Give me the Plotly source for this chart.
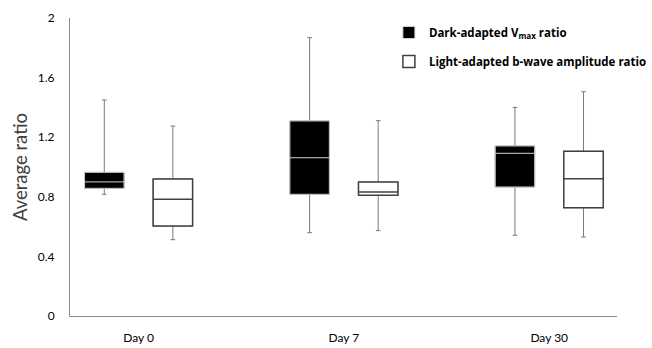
import plotly.graph_objects as go

days = ["Day 0", "Day 7", "Day 30"]

dark_low = [0.817, 0.559, 0.542]
dark_q1 = [0.857, 0.817, 0.866]
dark_med = [0.900, 1.062, 1.092]
dark_q3 = [0.964, 1.309, 1.141]
dark_high = [1.450, 1.868, 1.400]

light_low = [0.512, 0.573, 0.530]
light_q1 = [0.604, 0.810, 0.727]
light_med = [0.783, 0.832, 0.921]
light_q3 = [0.920, 0.899, 1.105]
light_high = [1.275, 1.311, 1.505]

yticks = [0, 0.4, 0.8, 1.2, 1.6, 2]

fig = go.Figure()

def add_series(name, low, q1, med, q3, high, fill, box_line, whisk_line, group, lw):
    # whiskers layer
    fig.add_trace(go.Box(
        x=days, q1=q1, median=med, q3=q3, lowerfence=low, upperfence=high,
        name=name, offsetgroup=group, legendgroup=group, showlegend=False,
        fillcolor=fill, line=dict(color=whisk_line, width=1), whiskerwidth=0.12,
        hoverinfo="skip", boxpoints=False,
    ))
    # box layer
    fig.add_trace(go.Box(
        x=days, q1=q1, median=med, q3=q3, lowerfence=q1, upperfence=q3,
        name=name, offsetgroup=group, legendgroup=group, showlegend=True,
        fillcolor=fill, line=dict(color=box_line, width=lw), whiskerwidth=0,
        boxpoints=False,
    ))

add_series("Dark-adapted V<sub>max</sub> ratio", dark_low, dark_q1, dark_med, dark_q3, dark_high,
           "#000000", "#d0d0d0", "#7a7a7a", "dark", 1)
add_series("Light-adapted b-wave amplitude ratio", light_low, light_q1, light_med, light_q3, light_high,
           "#ffffff", "#404040", "#7a7a7a", "light", 1.5)

fig.update_layout(
    width=652, height=348,
    margin=dict(l=70, r=0, t=18, b=32),
    paper_bgcolor="white", plot_bgcolor="white",
    boxmode="group", boxgap=0.332, boxgroupgap=0.425,
    font=dict(family="Lato, Open Sans, sans-serif", color="#595959", size=12),
    legend=dict(
        x=0.583, y=1.0, xanchor="left", yanchor="top",
        font=dict(family="Open Sans, sans-serif", size=11.5, color="#000000", weight="bold"),
        bgcolor="rgba(0,0,0,0)", itemwidth=30, tracegroupgap=10,
    ),
    xaxis=dict(
        type="category", range=[-0.334, 2.33], automargin=False,
        showline=True, linecolor="#8c8c8c", linewidth=1,
        ticks="", ticklabelstandoff=11, showgrid=False, zeroline=False,
        tickfont=dict(size=12, color="#000000", family="Lato, sans-serif"),
    ),
    yaxis=dict(
        range=[0, 2], tickvals=yticks, ticktext=[f"{v:g}" for v in yticks],
        showline=True, linecolor="#8c8c8c", linewidth=1, automargin=False,
        ticks="", ticklabelstandoff=12, showgrid=False, zeroline=False,
        tickfont=dict(size=12, color="#000000", family="Lato, sans-serif"),
        title=dict(text="Average ratio", font=dict(size=18.5, color="#404040", family="Lato, sans-serif"), standoff=5),
    ),
)

fig.write_html("out.html")
